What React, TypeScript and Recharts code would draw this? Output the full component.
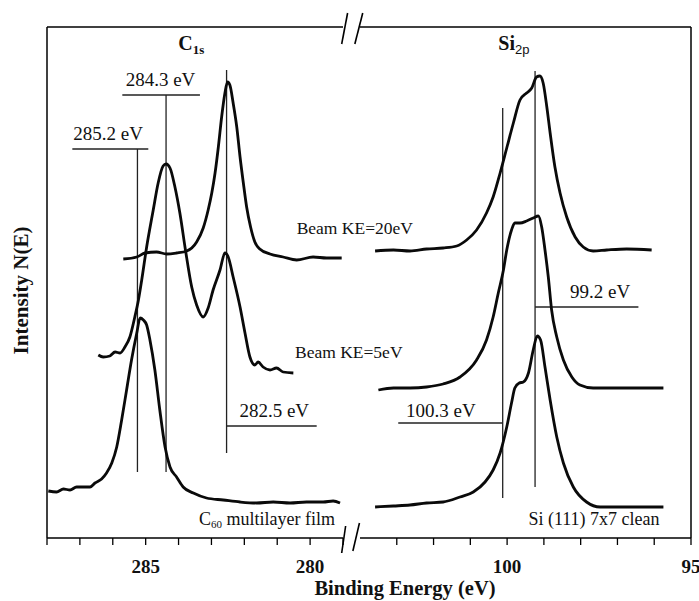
import React from 'react';
import { LineChart, Line, XAxis, YAxis, ReferenceLine, ReferenceDot } from 'recharts';

const SERIF = '"Liberation Serif", "Times New Roman", serif';
const SANS = '"Liberation Sans", Arial, sans-serif';

type P = { e: number; i: number };
const pts = (arr: number[][]): P[] => arr.map(([e, i]) => ({ e, i }));

// ---------- C1s spectra (binding energy eV, intensity arb. units) ----------
const c1sBeam20 = pts([
  [285.68, 279], [285.27, 281], [285.02, 285], [284.67, 286], [284.36, 284], [284.06, 285],
  [283.75, 287], [283.45, 296], [283.25, 310], [283.1, 328], [282.99, 345], [282.89, 365],
  [282.79, 391], [282.69, 421], [282.59, 445], [282.51, 456], [282.44, 453], [282.34, 435],
  [282.23, 411], [282.13, 381], [282.03, 355], [281.93, 331], [281.81, 311], [281.68, 296],
  [281.53, 289], [281.22, 284], [280.82, 281], [280.41, 278], [279.91, 281], [279.5, 280],
  [279.04, 280],
]);

const c1sBeam5 = pts([
  [286.44, 183], [286.29, 181], [286.09, 182], [285.93, 186], [285.78, 185], [285.63, 191],
  [285.48, 201], [285.33, 221], [285.22, 238], [285.12, 258], [284.97, 291], [284.77, 328],
  [284.62, 355], [284.47, 372], [284.38, 374], [284.26, 370], [284.11, 351], [283.96, 325],
  [283.79, 288], [283.6, 251], [283.45, 233], [283.25, 221], [283.1, 230], [282.95, 248],
  [282.74, 268], [282.59, 285], [282.49, 281], [282.34, 261], [282.13, 231], [281.98, 205],
  [281.83, 181], [281.68, 173], [281.58, 176], [281.43, 171], [281.22, 168], [281.02, 170],
  [280.82, 166], [280.51, 165],
]);

const c1sC60 = pts([
  [287.96, 47], [287.71, 46], [287.5, 49], [287.3, 48], [287.1, 51], [286.9, 51], [286.69, 51],
  [286.54, 55], [286.34, 59], [286.19, 65], [286.03, 75], [285.88, 91], [285.73, 118],
  [285.58, 148], [285.43, 178], [285.27, 205], [285.17, 220], [285.07, 218], [284.97, 213],
  [284.87, 198], [284.72, 168], [284.57, 128], [284.41, 91], [284.26, 71], [284.06, 61],
  [283.86, 51], [283.55, 45], [283.15, 40], [282.64, 38], [282.13, 36], [281.63, 35],
  [281.12, 36], [280.61, 35], [280.11, 36], [279.6, 36], [279.3, 37], [279.09, 35],
]);

// ---------- Si2p spectra ----------
const siBeam20 = pts([
  [103.59, 287], [103.09, 288], [102.64, 287], [102.19, 289], [101.74, 290], [101.37, 292],
  [101.1, 298], [100.83, 308], [100.56, 325], [100.38, 341], [100.19, 365], [100.01, 390],
  [99.83, 415], [99.65, 438], [99.47, 445], [99.33, 450], [99.2, 461], [99.11, 462],
  [99.02, 455], [98.92, 431], [98.83, 405], [98.7, 371], [98.56, 345], [98.38, 321],
  [98.15, 301], [97.93, 291], [97.66, 287], [97.29, 288], [96.75, 289], [96.07, 288],
]);

const siBeam5 = pts([
  [103.5, 148], [103.09, 150], [102.64, 150], [102.19, 151], [101.74, 154], [101.28, 161],
  [100.83, 178], [100.56, 198], [100.38, 221], [100.24, 245], [100.1, 268], [100.01, 288],
  [99.88, 308], [99.79, 315], [99.65, 315], [99.47, 317], [99.29, 320], [99.15, 322],
  [99.06, 311], [98.97, 288], [98.88, 261], [98.79, 228], [98.65, 201], [98.47, 178],
  [98.24, 161], [98.02, 153], [97.66, 150], [97.11, 150], [96.48, 150], [95.75, 150],
]);

const siClean = pts([
  [103.59, 31], [103.09, 32], [102.64, 33], [102.19, 35], [101.74, 36], [101.28, 41],
  [100.92, 46], [100.6, 56], [100.38, 68], [100.19, 85], [100.01, 111], [99.88, 135],
  [99.79, 150], [99.67, 155], [99.56, 156], [99.42, 165], [99.29, 188], [99.18, 202],
  [99.09, 198], [98.97, 171], [98.83, 138], [98.65, 101], [98.47, 75], [98.2, 51],
  [97.84, 36], [97.47, 31], [96.75, 31], [95.75, 31],
]);

// ---------- axes ----------
const yDomain = [0, 511];
const c1sDomain = [279, 288];
const siDomain = [95, 104];
const c1sTicks = [288, 287, 286, 285, 284, 283, 282, 281, 280, 279];
const siTicks = [103, 102, 101, 100, 99, 98, 97, 96, 95];
const c1sTickLabels = [285, 280];
const siTickLabels = [100, 95];

// ---------- peak marker lines ----------
type Seg = { x1: number; y1: number; x2: number; y2: number };
const c1sMarkers: Seg[] = [
  { x1: 285.25, y1: 66, x2: 285.25, y2: 389 },
  { x1: 287.23, y1: 389, x2: 284.92, y2: 389 },
  { x1: 284.38, y1: 66, x2: 284.38, y2: 443 },
  { x1: 285.71, y1: 443, x2: 283.35, y2: 443 },
  { x1: 282.54, y1: 85, x2: 282.54, y2: 468 },
  { x1: 282.54, y1: 112, x2: 279.8, y2: 112 },
];
const siMarkers: Seg[] = [
  { x1: 100.12, y1: 40, x2: 100.12, y2: 430 },
  { x1: 102.96, y1: 115, x2: 100.12, y2: 115 },
  { x1: 99.24, y1: 51, x2: 99.24, y2: 467 },
  { x1: 99.24, y1: 231, x2: 96.43, y2: 231 },
];
// axis break marks (drawn in the C1s panel's coordinates)
const breakMarks: Seg[] = [
  { x1: 279.04, y1: 494, x2: 278.86, y2: 525 },
  { x1: 278.64, y1: 494, x2: 278.4, y2: 525 },
  { x1: 279.04, y1: -15, x2: 278.92, y2: 12 },
  { x1: 278.7, y1: -13, x2: 278.5, y2: 15 },
];

// ---------- text annotations ----------
type Part = { t: string; size?: number; dy?: number; font?: string; weight?: string };
type Note = { e: number; i: number; parts: Part[]; anchor: string; size: number; bold?: boolean; ls?: number };
const c1sNotes: Note[] = [
  { e: 284.01, i: 488, parts: [{ t: 'C' }, { t: '1s', size: 13, dy: 4 }], anchor: 'start', size: 20, bold: true },
  { e: 286.14, i: 398, parts: [{ t: '285.2 eV' }], anchor: 'middle', size: 19 },
  { e: 284.55, i: 452, parts: [{ t: '284.3 eV' }], anchor: 'middle', size: 19 },
  { e: 281.09, i: 121, parts: [{ t: '282.5 eV' }], anchor: 'middle', size: 19 },
  { e: 280.41, i: 304, parts: [{ t: 'Beam KE=20eV' }], anchor: 'start', size: 17.5 },
  { e: 280.46, i: 180, parts: [{ t: 'Beam KE=5eV' }], anchor: 'start', size: 17.5 },
  { e: 283.38, i: 13, parts: [{ t: 'C' }, { t: '60', size: 11, dy: 3 }, { t: ' multilayer film', dy: -3 }], anchor: 'start', size: 18 },
];
const siNotes: Note[] = [
  { e: 100.24, i: 488, parts: [{ t: 'Si' }, { t: '2p', size: 13, dy: 4, font: SANS, weight: 'normal' }], anchor: 'start', size: 20, bold: true },
  { e: 101.8, i: 121, parts: [{ t: '100.3 eV' }], anchor: 'middle', size: 19 },
  { e: 97.47, i: 240, parts: [{ t: '99.2 eV' }], anchor: 'middle', size: 19 },
  { e: 99.42, i: 13, parts: [{ t: 'Si (111) 7x7 clean' }], anchor: 'start', size: 18 },
];

const noteLabel = (n: Note) => (props: any) => {
  const vb = props.viewBox || {};
  const x = (vb.x ?? 0) + (vb.width ?? 0) / 2;
  const y = (vb.y ?? 0) + (vb.height ?? 0) / 2;
  return (
    <text x={x} y={y} textAnchor={n.anchor as any} fontFamily={SERIF} fontSize={n.size}
      fontWeight={n.bold ? 'bold' : 'normal'} fill="#111" letterSpacing={n.ls}>
      {n.parts.map((p, k) => (
        <tspan key={k} fontSize={p.size} dy={p.dy} fontFamily={p.font} fontWeight={p.weight}>{p.t}</tspan>
      ))}
    </text>
  );
};

const CURVE = { stroke: '#0a0a0a', strokeWidth: 2.8, dot: false, isAnimationActive: false, type: 'monotone' as const };
const tickStyle = { fill: '#111', fontSize: 19, fontWeight: 'bold', fontFamily: SERIF };
const W = 699;
const H = 601;

const xLabel = (props: any) => {
  const vb = props.viewBox || { x: 47, y: 538, width: 296, height: 30 };
  return (
    <text x={vb.x + 358} y={vb.y + 57} textAnchor="middle" fontFamily={SERIF} fontSize={20.5}
      fontWeight="bold" fill="#111">Binding Energy (eV)</text>
  );
};
const yLabel = (props: any) => {
  const vb = props.viewBox || { x: 0, y: 27, width: 47, height: 511 };
  const x = vb.x + 28;
  const y = vb.y + vb.height / 2 + 8;
  return (
    <text x={x} y={y} transform={`rotate(-90 ${x} ${y})`} textAnchor="middle" fontFamily={SERIF}
      fontSize={21} fontWeight="bold" fill="#111">Intensity N(E)</text>
  );
};

const segLine = (s: Seg, k: number, stroke: string, sw: number, overflow?: boolean) => (
  <ReferenceLine key={k} segment={[{ x: s.x1, y: s.y1 }, { x: s.x2, y: s.y2 }]} stroke={stroke}
    strokeWidth={sw} ifOverflow={overflow ? 'visible' : 'discard'} />
);

export default function App() {
  return (
    <div style={{ position: 'absolute', left: 0, top: 0, width: W, height: H, background: '#fff' }}>
      <div style={{ position: 'absolute', left: 0, top: 0 }}>
        <LineChart width={W} height={H} margin={{ top: 27, right: 356, bottom: 33, left: 0 }}>
          <XAxis type="number" dataKey="e" domain={c1sDomain} reversed allowDataOverflow ticks={c1sTicks}
            interval={0} tickFormatter={(v: number) => (c1sTickLabels.includes(v) ? String(v) : '')}
            tick={tickStyle} tickSize={7} tickMargin={15} height={30}
            axisLine={{ stroke: '#000', strokeWidth: 1.5 }} tickLine={{ stroke: '#000', strokeWidth: 1.3 }}
            label={xLabel} />
          <YAxis type="number" domain={yDomain} allowDataOverflow width={47} tick={false} tickLine={false}
            axisLine={{ stroke: '#000', strokeWidth: 1.5 }} label={yLabel} />
          <ReferenceLine y={511} stroke="#000" strokeWidth={1.5} />
          {c1sMarkers.map((s, k) => segLine(s, k, '#222', 1.3))}
          {breakMarks.map((s, k) => segLine(s, 100 + k, '#000', 1.6, true))}
          <Line data={c1sBeam20} dataKey="i" {...CURVE} />
          <Line data={c1sBeam5} dataKey="i" {...CURVE} />
          <Line data={c1sC60} dataKey="i" {...CURVE} />
          {c1sNotes.map((n, k) => (
            <ReferenceDot key={k} x={n.e} y={n.i} r={0} fill="none" stroke="none" label={noteLabel(n)} />
          ))}
        </LineChart>
      </div>
      <div style={{ position: 'absolute', left: 0, top: 0 }}>
        <LineChart width={W} height={H} margin={{ top: 27, right: 0, bottom: 33, left: 360 }}>
          <XAxis type="number" dataKey="e" domain={siDomain} reversed allowDataOverflow ticks={siTicks}
            interval={0} tickFormatter={(v: number) => (siTickLabels.includes(v) ? String(v) : '')}
            tick={tickStyle} tickSize={7} tickMargin={15} height={30}
            axisLine={{ stroke: '#000', strokeWidth: 1.5 }} tickLine={{ stroke: '#000', strokeWidth: 1.3 }} />
          <YAxis type="number" orientation="right" domain={yDomain} allowDataOverflow width={8} tick={false}
            tickLine={false} axisLine={{ stroke: '#000', strokeWidth: 1.5 }} />
          <ReferenceLine y={511} stroke="#000" strokeWidth={1.5} />
          {siMarkers.map((s, k) => segLine(s, k, '#222', 1.3))}
          <Line data={siBeam20} dataKey="i" {...CURVE} />
          <Line data={siBeam5} dataKey="i" {...CURVE} />
          <Line data={siClean} dataKey="i" {...CURVE} />
          {siNotes.map((n, k) => (
            <ReferenceDot key={k} x={n.e} y={n.i} r={0} fill="none" stroke="none" label={noteLabel(n)} />
          ))}
        </LineChart>
      </div>
    </div>
  );
}
